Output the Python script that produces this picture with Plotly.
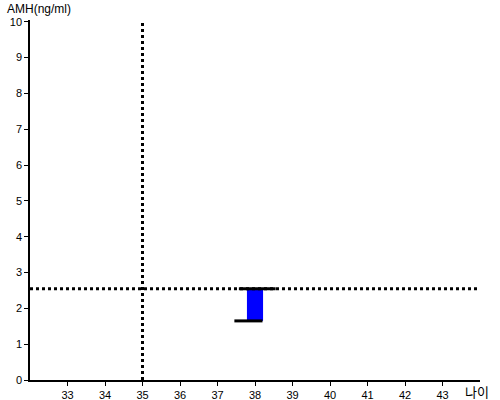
import plotly.graph_objects as go

# data
age_ticks = [33, 34, 35, 36, 37, 38, 39, 40, 41, 42, 43]
amh_ticks = [0, 1, 2, 3, 4, 5, 6, 7, 8, 9, 10]
ref_age = 35
ref_amh = 2.55
patient_age = 38
amh_low = 1.65
amh_high = 2.55
top_tick_x = [37.57, 38.55]
bottom_tick_x = [37.45, 38.2]

fig = go.Figure()

# reference lines (dotted)
fig.add_trace(go.Scatter(x=[32, 44], y=[ref_amh, ref_amh], mode="lines",
                         line=dict(color="black", width=3, dash="dot"), hoverinfo="skip"))
fig.add_trace(go.Scatter(x=[ref_age, ref_age], y=[0, 10.05], mode="lines",
                         line=dict(color="black", width=3, dash="dot"), hoverinfo="skip"))

# range bar
fig.add_trace(go.Bar(x=[patient_age], y=[amh_high - amh_low], base=[amh_low], width=0.43,
                     marker=dict(color="#0000ff", line=dict(width=0))))
fig.add_trace(go.Scatter(x=top_tick_x, y=[amh_high, amh_high], mode="lines",
                         line=dict(color="black", width=3)))
fig.add_trace(go.Scatter(x=bottom_tick_x, y=[amh_low, amh_low], mode="lines",
                         line=dict(color="black", width=3)))

fig.update_layout(
    width=500, height=400,
    margin=dict(l=30, r=20, t=20, b=20),
    paper_bgcolor="white", plot_bgcolor="white",
    showlegend=False,
    font=dict(family="Liberation Sans, Arial", size=11, color="black"),
    xaxis=dict(range=[32, 44], tickvals=age_ticks, showgrid=False, zeroline=False,
               showline=True, linecolor="black", linewidth=1.5, automargin=False,
               ticks="outside", ticklen=4, tickcolor="black"),
    yaxis=dict(range=[0, 10.05], tickvals=amh_ticks, showgrid=False, zeroline=False,
               showline=True, linecolor="black", linewidth=1.5, automargin=False,
               ticks="outside", ticklen=4, tickcolor="black"),
    annotations=[
        dict(text="AMH(ng/ml)", x=-0.056, y=1.031, xref="paper", yref="paper",
             xanchor="left", yanchor="middle", showarrow=False,
             font=dict(size=12, family="Liberation Sans, Arial")),
        dict(text="나이", x=1.024, y=-0.033, xref="paper", yref="paper",
             xanchor="right", yanchor="middle", showarrow=False,
             font=dict(size=13, family="Noto Sans CJK KR")),
    ],
)

# drop the page's default body margin so the figure sits at 0,0
fig.write_html("out.html", config={"displayModeBar": False},
               post_script="document.body.style.margin='0';")
